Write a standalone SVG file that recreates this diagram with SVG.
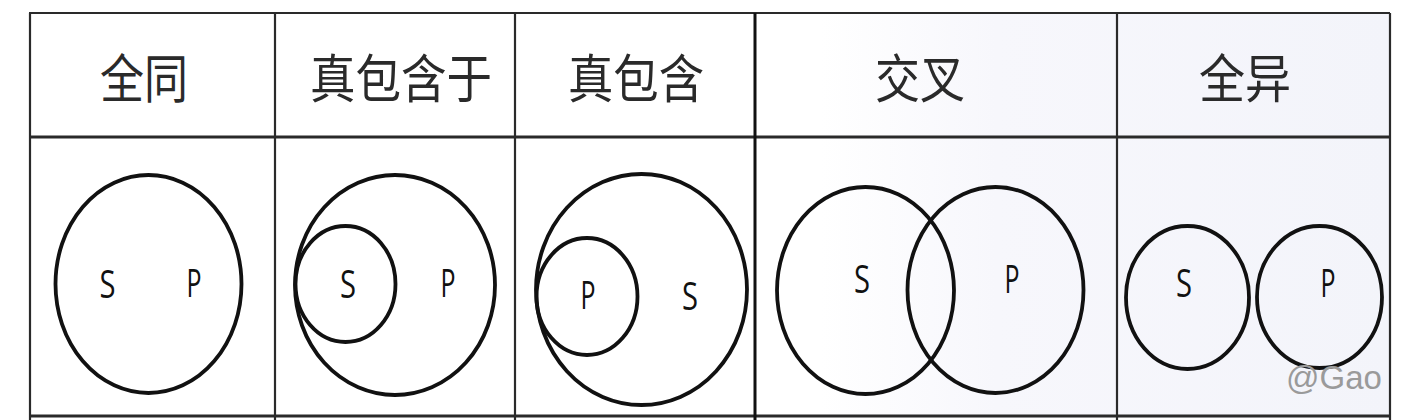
<svg xmlns="http://www.w3.org/2000/svg" width="1423" height="420" viewBox="0 0 1423 420">
<defs>
<linearGradient id="bg" x1="0" y1="0" x2="1" y2="0">
<stop offset="0" stop-color="#ffffff"/>
<stop offset="0.35" stop-color="#ffffff"/>
<stop offset="0.55" stop-color="#f7f7fc"/>
<stop offset="1" stop-color="#f3f4fa"/>
</linearGradient>
</defs>
<style>
.grid{stroke:#2a2a2a;stroke-width:2.2;fill:none}
.thick{stroke:#111;stroke-width:3}
.c{fill:none;stroke:#111;stroke-width:3.8}
.h{font-family:"Noto Sans CJK SC","Noto Sans CJK JP",sans-serif;font-size:52px;fill:#2a2a2a;text-anchor:middle}
.l{font-family:"Open Sans","Noto Sans",sans-serif;font-size:38px;fill:#111;text-anchor:middle}
.w{font-family:"Liberation Sans",Arial,sans-serif;font-size:33px;fill:#9a9a9a}
</style>
<rect x="0" y="0" width="1423" height="420" fill="#ffffff"/>
<rect x="515" y="13" width="875" height="405" fill="url(#bg)"/>
<g id="table">
<line class="grid" x1="29" y1="13" x2="1390" y2="13"/>
<line class="grid" x1="29" y1="137" x2="1390" y2="137" style="stroke-width:3"/>
<line class="grid" x1="29" y1="416" x2="1390" y2="416" style="stroke-width:3"/>
<line class="grid" x1="30" y1="13" x2="30" y2="420"/>
<line class="grid" x1="275" y1="13" x2="275" y2="420"/>
<line class="grid" x1="515" y1="13" x2="515" y2="420"/>
<line class="grid thick" x1="755" y1="13" x2="755" y2="420"/>
<line class="grid" x1="1117" y1="13" x2="1117" y2="420"/>
<line class="grid" x1="1390" y1="13" x2="1390" y2="420"/>
</g>
<g id="col-quantong">
<text class="h" x="144" y="98" textLength="88" lengthAdjust="spacingAndGlyphs">全同</text>
<ellipse class="c" cx="148.5" cy="284" rx="93" ry="109"/>
<text class="l" x="107.5" y="298" textLength="16" lengthAdjust="spacingAndGlyphs">S</text>
<text class="l" x="194" y="297" textLength="15" lengthAdjust="spacingAndGlyphs">P</text>
</g>
<g id="col-zhenbaohanyu">
<text class="h" x="401" y="98" textLength="182" lengthAdjust="spacingAndGlyphs">真包含于</text>
<ellipse class="c" cx="395" cy="285" rx="100" ry="110"/>
<ellipse class="c" cx="345.5" cy="284" rx="50" ry="58"/>
<text class="l" x="348" y="298" textLength="16" lengthAdjust="spacingAndGlyphs">S</text>
<text class="l" x="448" y="297" textLength="15" lengthAdjust="spacingAndGlyphs">P</text>
</g>
<g id="col-zhenbaohan">
<text class="h" x="636" y="98" textLength="136" lengthAdjust="spacingAndGlyphs">真包含</text>
<ellipse class="c" cx="641.5" cy="289.5" rx="105.5" ry="115.5"/>
<ellipse class="c" cx="587" cy="296.5" rx="50.5" ry="58.5"/>
<text class="l" x="588" y="309" textLength="15" lengthAdjust="spacingAndGlyphs">P</text>
<text class="l" x="690" y="310" textLength="16" lengthAdjust="spacingAndGlyphs">S</text>
</g>
<g id="col-jiaocha">
<text class="h" x="920" y="98" textLength="90" lengthAdjust="spacingAndGlyphs">交叉</text>
<ellipse class="c" cx="865.5" cy="290.5" rx="88.5" ry="103.5"/>
<ellipse class="c" cx="995.5" cy="290" rx="88" ry="103"/>
<text class="l" x="862" y="293" textLength="16" lengthAdjust="spacingAndGlyphs">S</text>
<text class="l" x="1012" y="293" textLength="15" lengthAdjust="spacingAndGlyphs">P</text>
</g>
<g id="col-quanyi">
<text class="h" x="1245" y="98" textLength="92" lengthAdjust="spacingAndGlyphs">全异</text>
<ellipse class="c" cx="1187.5" cy="297.5" rx="61.5" ry="71.5"/>
<ellipse class="c" cx="1319.5" cy="297" rx="62.5" ry="71"/>
<text class="l" x="1184" y="297" textLength="16" lengthAdjust="spacingAndGlyphs">S</text>
<text class="l" x="1328" y="297" textLength="15" lengthAdjust="spacingAndGlyphs">P</text>
</g>
<text class="w" x="1286" y="389">@Gao</text>
</svg>
